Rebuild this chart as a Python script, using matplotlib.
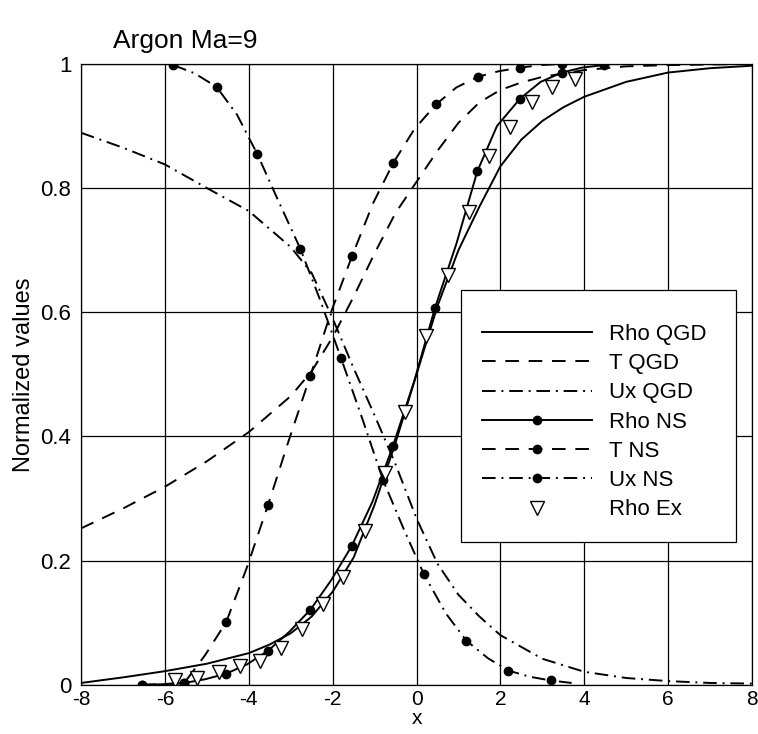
import matplotlib
matplotlib.use("Agg")
import matplotlib.pyplot as plt
from matplotlib.patches import Rectangle

plt.rcParams["font.family"] = ["Liberation Sans", "DejaVu Sans"]

# QGD solution (continuous curves)
rho_qgd_x = [-8, -7, -6, -5, -4, -3.5, -3, -2.5, -2, -1.5, -1, -0.5, 0, 0.5, 1,
             1.5, 2, 2.5, 3, 3.5, 4, 5, 6, 7, 8]
rho_qgd_y = [0.003, 0.012, 0.022, 0.034, 0.051, 0.065, 0.083, 0.11, 0.15, 0.205,
             0.29, 0.39, 0.50, 0.61, 0.70, 0.77, 0.835, 0.878, 0.908, 0.93, 0.947,
             0.971, 0.986, 0.993, 0.997]

t_qgd_x = [-8, -7, -6, -5, -4, -3, -2.5, -2, -1.5, -1, -0.5, 0, 0.5, 1, 1.5, 2,
           2.5, 3, 4, 5, 6, 7, 8]
t_qgd_y = [0.252, 0.284, 0.319, 0.36, 0.407, 0.465, 0.505, 0.56, 0.625, 0.695,
           0.76, 0.81, 0.86, 0.905, 0.938, 0.958, 0.97, 0.979, 0.99, 0.996, 0.998,
           0.999, 1.0]

ux_qgd_x = [-8, -7, -6, -5, -4, -3, -2.5, -2, -1.5, -1, -0.5, 0, 0.5, 1, 1.5, 2,
            3, 4, 5, 6, 7, 8]
ux_qgd_y = [0.889, 0.865, 0.838, 0.80, 0.763, 0.705, 0.663, 0.59, 0.51, 0.434,
            0.355, 0.268, 0.195, 0.145, 0.11, 0.08, 0.042, 0.021, 0.011, 0.006,
            0.003, 0.002]

# NS solution, dots on every second point
rho_ns_x = [-6.55, -6.05, -5.54, -5.04, -4.54, -4.04, -3.54, -3.04, -2.53, -2.04,
            -1.55, -1.05, -0.56, -0.05, 0.44, 0.95, 1.45, 1.92, 2.47, 2.96, 3.47,
            3.95, 4.47]
rho_ns_y = [0.0, 0.001, 0.003, 0.009, 0.018, 0.033, 0.055, 0.085, 0.121, 0.168,
            0.223, 0.295, 0.385, 0.49, 0.607, 0.71, 0.827, 0.90, 0.944, 0.971,
            0.986, 0.994, 0.998]

t_ns_x = [-6.55, -6.05, -5.54, -5.04, -4.54, -4.04, -3.54, -3.04, -2.53, -2.04,
          -1.54, -1.04, -0.55, -0.05, 0.47, 0.95, 1.46, 1.95, 2.47, 2.97, 3.47,
          3.97, 4.47]
t_ns_y = [0.0, 0.001, 0.003, 0.048, 0.101, 0.19, 0.29, 0.395, 0.498, 0.60, 0.69,
          0.775, 0.841, 0.895, 0.935, 0.962, 0.979, 0.988, 0.994, 0.998, 1.0,
          1.0, 1.0]

ux_ns_x = [-5.8, -5.3, -4.77, -4.28, -3.8, -3.3, -2.77, -2.3, -1.8, -1.3, -0.8,
           -0.3, 0.17, 0.7, 1.19, 1.7, 2.19, 2.7, 3.2, 3.7]
ux_ns_y = [0.998, 0.985, 0.963, 0.918, 0.855, 0.78, 0.702, 0.62, 0.526, 0.43,
           0.33, 0.25, 0.179, 0.115, 0.071, 0.043, 0.023, 0.013, 0.007, 0.003]

# experimental density
rho_ex_x = [-5.76, -5.24, -4.72, -4.22, -3.73, -3.23, -2.73, -2.23, -1.76, -1.22,
            -0.76, -0.27, 0.23, 0.75, 1.25, 1.73, 2.24, 2.75, 3.23, 3.77]
rho_ex_y = [0.007, 0.011, 0.020, 0.031, 0.039, 0.059, 0.090, 0.130, 0.174, 0.247,
            0.341, 0.440, 0.561, 0.660, 0.762, 0.851, 0.899, 0.939, 0.963, 0.975]

x_ticks = [-8, -6, -4, -2, 0, 2, 4, 6, 8]
y_ticks = [0, 0.2, 0.4, 0.6, 0.8, 1]
y_tick_labels = ["0", "0.2", "0.4", "0.6", "0.8", "1"]


def main() -> None:
    fig = plt.figure(figsize=(7.58, 7.34), dpi=100)
    ax = fig.add_axes([0.107, 0.067, 0.885, 0.846])

    lw = 1.4
    dash = (7, 5)
    dashdot = (7, 3, 1, 3)
    dot = dict(marker="o", markersize=6, markerfacecolor="black",
               markeredgecolor="black", markevery=2)

    ax.plot(rho_qgd_x, rho_qgd_y, color="black", lw=lw, label="Rho QGD")
    ax.plot(t_qgd_x, t_qgd_y, color="black", lw=lw, dashes=dash, label="T QGD")
    ax.plot(ux_qgd_x, ux_qgd_y, color="black", lw=lw, dashes=dashdot,
            label="Ux QGD")
    ax.plot(rho_ns_x, rho_ns_y, color="black", lw=lw, label="Rho NS", **dot)
    ax.plot(t_ns_x, t_ns_y, color="black", lw=lw, dashes=dash, label="T NS", **dot)
    ax.plot(ux_ns_x, ux_ns_y, color="black", lw=lw, dashes=dashdot,
            label="Ux NS", **dot)
    ax.plot(rho_ex_x, rho_ex_y, linestyle="none", marker="v", markersize=10,
            markerfacecolor="white", markeredgecolor="black", markeredgewidth=1,
            label="Rho Ex")

    ax.set_xlim(-8, 8)
    ax.set_ylim(0, 1)
    ax.set_xticks(x_ticks)
    ax.set_xticklabels([str(v) for v in x_ticks])
    ax.set_yticks(y_ticks)
    ax.set_yticklabels(y_tick_labels)
    ax.tick_params(axis="y", length=0, labelsize=16, pad=7)
    ax.tick_params(axis="x", length=0, labelsize=15, pad=4)
    ax.grid(True, color="black", linewidth=0.9)
    ax.set_axisbelow(True)
    for spine in ax.spines.values():
        spine.set_color("black")
        spine.set_linewidth(0.9)

    ax.set_xlabel("x", fontsize=15, labelpad=0)
    ax.set_ylabel("Normalized values", fontsize=17, labelpad=4)

    # legend frame drawn separately so the padding can be uneven
    box = Rectangle((0.566, 0.230), 0.410, 0.406, transform=ax.transAxes,
                    facecolor="white", edgecolor="black", linewidth=0.9,
                    zorder=4.5)
    ax.add_patch(box)
    leg = ax.legend(loc="upper left", bbox_to_anchor=(0.597, 0.581),
                    fontsize=16, frameon=False, handlelength=4.95,
                    handletextpad=0.8, labelspacing=0.37, borderpad=0,
                    borderaxespad=0)
    leg.set_zorder(5)

    fig.text(113 / 758, 1 - 48 / 734, "Argon Ma=9", fontsize=19, va="baseline")

    fig.savefig("out.png", dpi=100)


if __name__ == "__main__":
    main()
